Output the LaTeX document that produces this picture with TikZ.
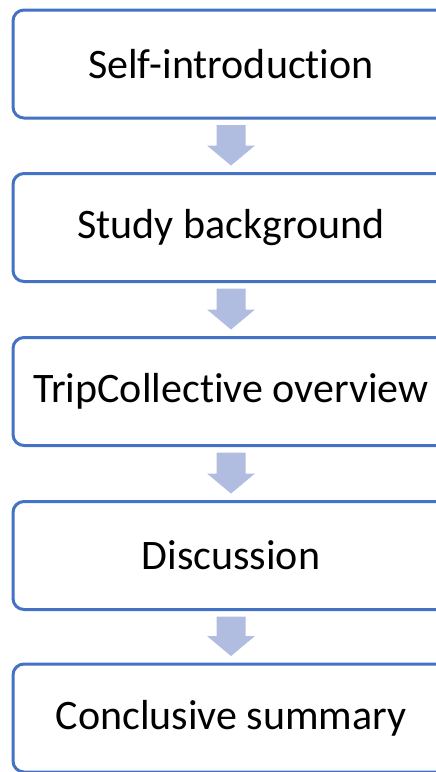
\documentclass[tikz,border=0pt]{standalone}
\usepackage{fontspec}
\setmainfont[Ligatures=NoCommon]{Carlito}
\usetikzlibrary{calc}
\definecolor{boxline}{HTML}{4472C4}
\definecolor{arrowfill}{HTML}{B0BDE0}
\tikzset{
  stepbox/.style={draw=boxline, line width=3pt, fill=white, rounded corners=11pt,
    minimum width=436pt, minimum height=108pt, outer sep=0pt, inner sep=0pt,
    font=\fontsize{42}{50}\selectfont, text=black},
  blockarrow/.style={fill=arrowfill, draw=none}
}
% block arrow from the bottom of one box to the top of the next
\newcommand{\flowarrow}[2]{%
  \fill[blockarrow] ($(#1.south)+(-14.5,7)$) -- ($(#1.south)+(14.5,7)$)
    -- ($(#2.north)+(14.5,-28)$) -- ($(#2.north)+(24,-28)$)
    -- ($(#2.north)+(0,-8)$) -- ($(#2.north)+(-24,-28)$)
    -- ($(#2.north)+(-14.5,-28)$) -- cycle;}
\begin{document}
\begin{tikzpicture}[x=1pt, y=-1pt]
  \useasboundingbox (0,0) rectangle (436,772);
  \clip (0,0) rectangle (436,772);
  \node[stepbox] (s1) at (231,64) {Self-introduction};
  \node[stepbox] (s2) at (231,227.5) {Study background};
  \node[stepbox] (s3) at (231,391.5) {TripCollective overview};
  \node[stepbox] (s4) at (231,555.5) {Discussion};
  \node[stepbox] (s5) at (231,718) {Conclusive summary};
  \flowarrow{s1}{s2}
  \flowarrow{s2}{s3}
  \flowarrow{s3}{s4}
  \flowarrow{s4}{s5}
\end{tikzpicture}
\end{document}
